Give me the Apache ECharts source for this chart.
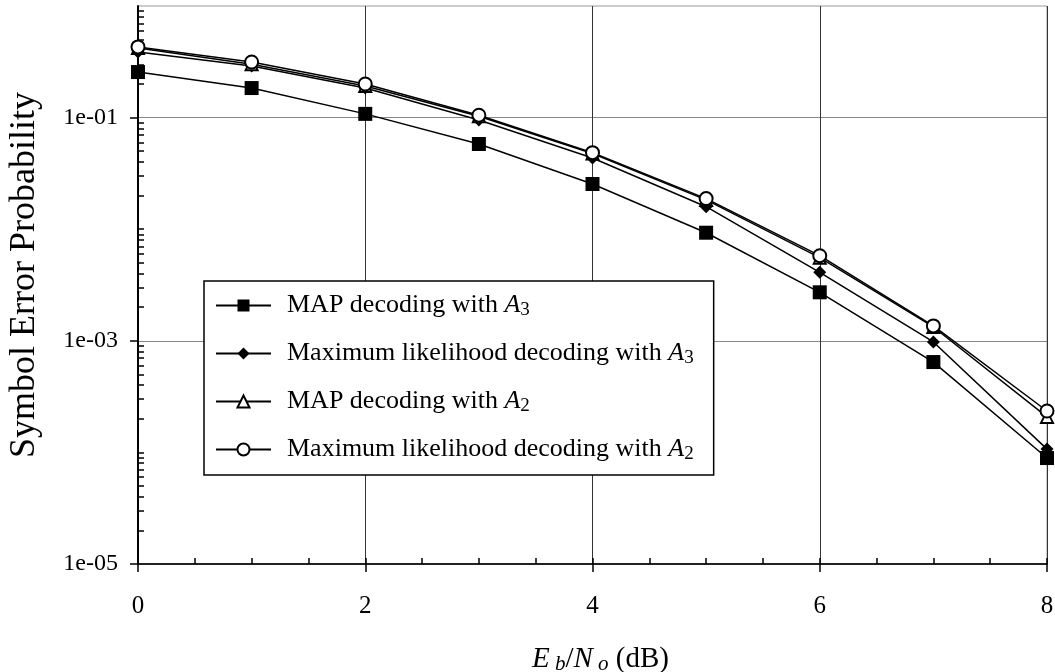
<!DOCTYPE html>
<html>
<head>
<meta charset="utf-8">
<script src="https://cdn.jsdelivr.net/npm/echarts@6/dist/echarts.min.js"></script>
<style>
  html, body { margin: 0; padding: 0; background: #fff; }
  #chart { width: 1055px; height: 672px; }
</style>
</head>
<body>
<div id="chart"></div>
<script>
// Eb/No in dB
const snrDb = [0, 1, 2, 3, 4, 5, 6, 7, 8];

// Symbol error probability per decoder / constellation
const mapA3 = [0.256, 0.184, 0.108, 0.058, 0.0254, 0.0093, 0.00272, 0.000645, 0.000089];
const mlA3  = [0.387, 0.290, 0.184, 0.095, 0.0435, 0.0159, 0.00411, 0.000977, 0.000107];
const mapA2 = [0.420, 0.300, 0.192, 0.103, 0.0477, 0.0183, 0.00556, 0.00133, 0.000208];
const mlA2  = [0.430, 0.315, 0.200, 0.105, 0.0485, 0.0188, 0.00579, 0.00136, 0.000235];

// Labelled decades on the probability axis
const yLabelValues = [1e-5, 1e-3, 1e-1];
// Decades and mantissas used for the inner log ticks
const yDecades = [1e-5, 1e-4, 1e-3, 1e-2, 1e-1];
const yMantissas = [2, 3, 4, 5, 6, 7, 8, 9];

const yInnerTicks = [];
yDecades.forEach(d => {
  if (yLabelValues.indexOf(d) < 0) yInnerTicks.push(d);
  yMantissas.forEach(m => yInnerTicks.push(+(m * d).toPrecision(3)));
});

const FONT = 'Liberation Serif';

const legendRich = {
  t: { fontFamily: FONT, fontSize: 26, color: '#000', lineHeight: 32 },
  i: { fontFamily: FONT, fontSize: 26, fontStyle: 'italic', color: '#000', lineHeight: 32 },
  s: { fontFamily: FONT, fontSize: 19, color: '#000', lineHeight: 32, padding: [10, 0, 0, 0] }
};

const names = {
  mapA3: 'MAP decoding with A3',
  mlA3: 'Maximum likelihood decoding with A3',
  mapA2: 'MAP decoding with A2',
  mlA2: 'Maximum likelihood decoding with A2'
};

function pairs(ys) {
  return snrDb.map((x, i) => [x, ys[i]]);
}

function lineSeries(name, ys, symbol, size) {
  return {
    name: name,
    type: 'line',
    xAxisIndex: 0,
    yAxisIndex: 0,
    data: pairs(ys),
    symbol: symbol,
    symbolSize: size,
    showAllSymbol: true,
    lineStyle: { color: '#000', width: 1.5 },
    itemStyle: { color: '#000', borderWidth: 1.5 },
    emphasis: { disabled: true },
    animation: false,
    z: 3
  };
}

const chart = echarts.init(document.getElementById('chart'), null, { renderer: 'canvas' });

chart.setOption({
  backgroundColor: '#fff',
  animation: false,
  grid: {
    left: 138, right: 8, top: 6, bottom: 108,
    outerBoundsMode: 'none',
    containLabel: false,
    show: true, borderColor: '#999', borderWidth: 1, backgroundColor: 'transparent'
  },
  legend: {
    orient: 'vertical',
    left: 204,
    top: 281,
    padding: [10, 20, 11, 11],
    itemGap: 19,
    itemWidth: 55,
    itemHeight: 15,
    backgroundColor: '#fff',
    borderColor: '#000',
    borderWidth: 1.5,
    borderRadius: 0,
    selectedMode: false,
    data: [names.mapA3, names.mlA3, names.mapA2, names.mlA2],
    textStyle: { fontFamily: FONT, fontSize: 26, color: '#000', padding: [0, 0, 0, 11], rich: legendRich },
    formatter: function (n) {
      const sub = n.slice(-1);
      const head = n.slice(0, -2);
      return '{t|' + head + '}{i|A}{s|' + sub + '}';
    }
  },
  xAxis: [
    {
      type: 'value',
      position: 'bottom',
      min: 0, max: 8, interval: 2,
      name: '{i|E}{s| b}{t|/}{i|N}{s| o}{t| (dB)}',
      nameLocation: 'middle',
      nameGap: 78,
      nameTextStyle: {
        fontFamily: FONT, fontSize: 29, color: '#000',
        padding: [0, 0, 0, 16],
        rich: {
          t: { fontFamily: FONT, fontSize: 29, color: '#000', lineHeight: 34 },
          i: { fontFamily: FONT, fontSize: 29, fontStyle: 'italic', color: '#000', lineHeight: 34 },
          s: { fontFamily: FONT, fontSize: 21, fontStyle: 'italic', color: '#000', lineHeight: 34, padding: [10, 0, 0, 0] }
        }
      },
      axisLine: { onZero: false, lineStyle: { color: '#222', width: 2 } },
      axisTick: { show: true, inside: false, length: 8, lineStyle: { color: '#000', width: 1.5 } },
      axisLabel: { fontFamily: FONT, fontSize: 25, color: '#000', margin: 30 },
      splitLine: { show: true, lineStyle: { color: '#333', width: 1 } }
    },
    {
      type: 'value',
      position: 'bottom',
      min: 0, max: 8, interval: 0.5,
      axisLine: { show: false, onZero: false },
      axisTick: { show: true, inside: true, length: 6, lineStyle: { color: '#000', width: 1.5 } },
      axisLabel: { show: false },
      splitLine: { show: false }
    }
  ],
  yAxis: [
    {
      type: 'log',
      logBase: 10,
      position: 'left',
      min: 1e-5, max: 1,
      name: 'Symbol Error Probability',
      nameLocation: 'middle',
      nameGap: 95,
      nameTextStyle: { fontFamily: FONT, fontSize: 36, color: '#000', padding: [0, 0, 0, 20] },
      axisLine: { onZero: false, lineStyle: { color: '#000', width: 2 } },
      axisTick: { show: true, inside: false, length: 8, customValues: yLabelValues, lineStyle: { color: '#000', width: 1.5 } },
      axisLabel: {
        customValues: yLabelValues,
        fontFamily: FONT, fontSize: 24, color: '#000', margin: 20,
        formatter: function (v) {
          const e = Math.round(Math.log10(v));
          return '1e-' + String(-e).padStart(2, '0');
        }
      },
      splitLine: { show: true, lineStyle: { color: '#888', width: 1 } }
    },
    {
      type: 'log',
      logBase: 10,
      position: 'left',
      min: 1e-5, max: 1,
      axisLine: { show: false, onZero: false },
      axisTick: { show: true, inside: true, length: 6, customValues: yInnerTicks, lineStyle: { color: '#000', width: 1.5 } },
      axisLabel: { show: false },
      splitLine: { show: false }
    }
  ],
  series: [
    lineSeries(names.mapA3, mapA3, 'rect', 14),
    lineSeries(names.mlA3, mlA3, 'diamond', 13),
    lineSeries(names.mapA2, mapA2, 'emptyTriangle', 12),
    lineSeries(names.mlA2, mlA2, 'emptyCircle', 13)
  ]
});
</script>
</body>
</html>
